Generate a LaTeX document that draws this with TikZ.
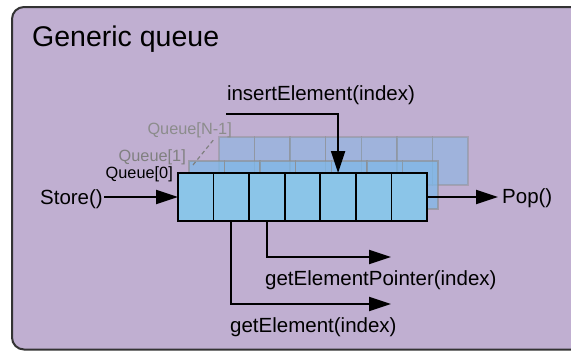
\documentclass[tikz,border=0pt]{standalone}
\usepackage{fontspec}
\setmainfont{Liberation Sans}
\usetikzlibrary{arrows.meta}
\definecolor{bgpurple}{HTML}{C0AFD1}
\definecolor{cellblue}{HTML}{8BC5E8}
\definecolor{layerblue}{HTML}{7FB8E8}
\tikzset{
  x=1pt, y=-1pt,
  cell/.style={draw=black, line width=1.6pt, fill=cellblue, minimum width=35.57pt, minimum height=48pt, inner sep=0pt, outer sep=0pt},
  cellone/.style={draw=black!45, line width=1.4pt, fill=layerblue, fill opacity=0.75, draw opacity=0.6, minimum width=35.57pt, minimum height=48pt, inner sep=0pt, outer sep=0pt},
  celln/.style={draw=black!45, line width=1.4pt, fill=layerblue, fill opacity=0.5, draw opacity=0.45, minimum width=35.57pt, minimum height=48pt, inner sep=0pt, outer sep=0pt},
  conn/.style={line width=2pt, -{Triangle[length=22pt,width=14pt]}},
  lbl/.style={font=\fontsize{20.5}{24}\selectfont, inner sep=0pt, anchor=base west},
  qlbl/.style={font=\fontsize{16.3}{19}\selectfont, inner sep=0pt, anchor=base east},
}
\begin{document}
\begin{tikzpicture}
\useasboundingbox (0,0) rectangle (571,351);
\fill[white] (0,0) rectangle (571,351);
\draw[line width=2pt, draw=black!80, fill=bgpurple, rounded corners=12pt] (12,7) rectangle (600,349.5);
\node[anchor=base west, inner sep=0pt, font=\fontsize{28.5}{33}\selectfont] (title) at (32,46.5) {Generic queue};

% back layer Queue[N-1]
\foreach \i in {0,...,6} {
  \node[celln] (n\i) at ({219+35.57*(\i+0.5)},161) {};
}
% layer Queue[1]
\foreach \i in {0,...,6} {
  \node[cellone] (o\i) at ({189+35.57*(\i+0.5)},185) {};
}
% front layer Queue[0]
\foreach \i in {0,...,6} {
  \node[cell] (c\i) at ({178+35.57*(\i+0.5)},197) {};
}

\node[qlbl, text=black] (q0) at (173,178) {Queue[0]};
\node[qlbl, text=black!50] (q1) at (186,161) {Queue[1]};
\node[qlbl, text=black!45] (qn) at (232,134) {Queue[N-1]};
\coordinate (d1) at (193,165);
\coordinate (d2) at (215,138);
\draw[black!50, line width=1.2pt, dash pattern=on 4pt off 3pt] (d1) -- (d2);

\node[lbl, anchor=base east] (store) at (103,204) {Store()};
\node[lbl] (pop) at (502,203) {Pop()};
\coordinate (s1) at (104,197);
\coordinate (p1) at (498,197);
\draw[conn] (s1) -- (s1 -| c0.west);
\draw[conn] (c6.east) -- (p1);

\node[lbl, anchor=base] (ins) at (321,100) {insertElement(index)};
\coordinate (i0) at (226,114);
\draw[conn] (i0) -| (c4.north);

\coordinate (gp) at (391,257);
\draw[conn] (c2.south) |- (gp);
\node[lbl] (gpt) at (265,285) {getElementPointer(index)};

\coordinate (ge) at (391,304);
\draw[conn] (c1.south) |- (ge);
\node[lbl] (get) at (230,332) {getElement(index)};
\end{tikzpicture}
\end{document}
